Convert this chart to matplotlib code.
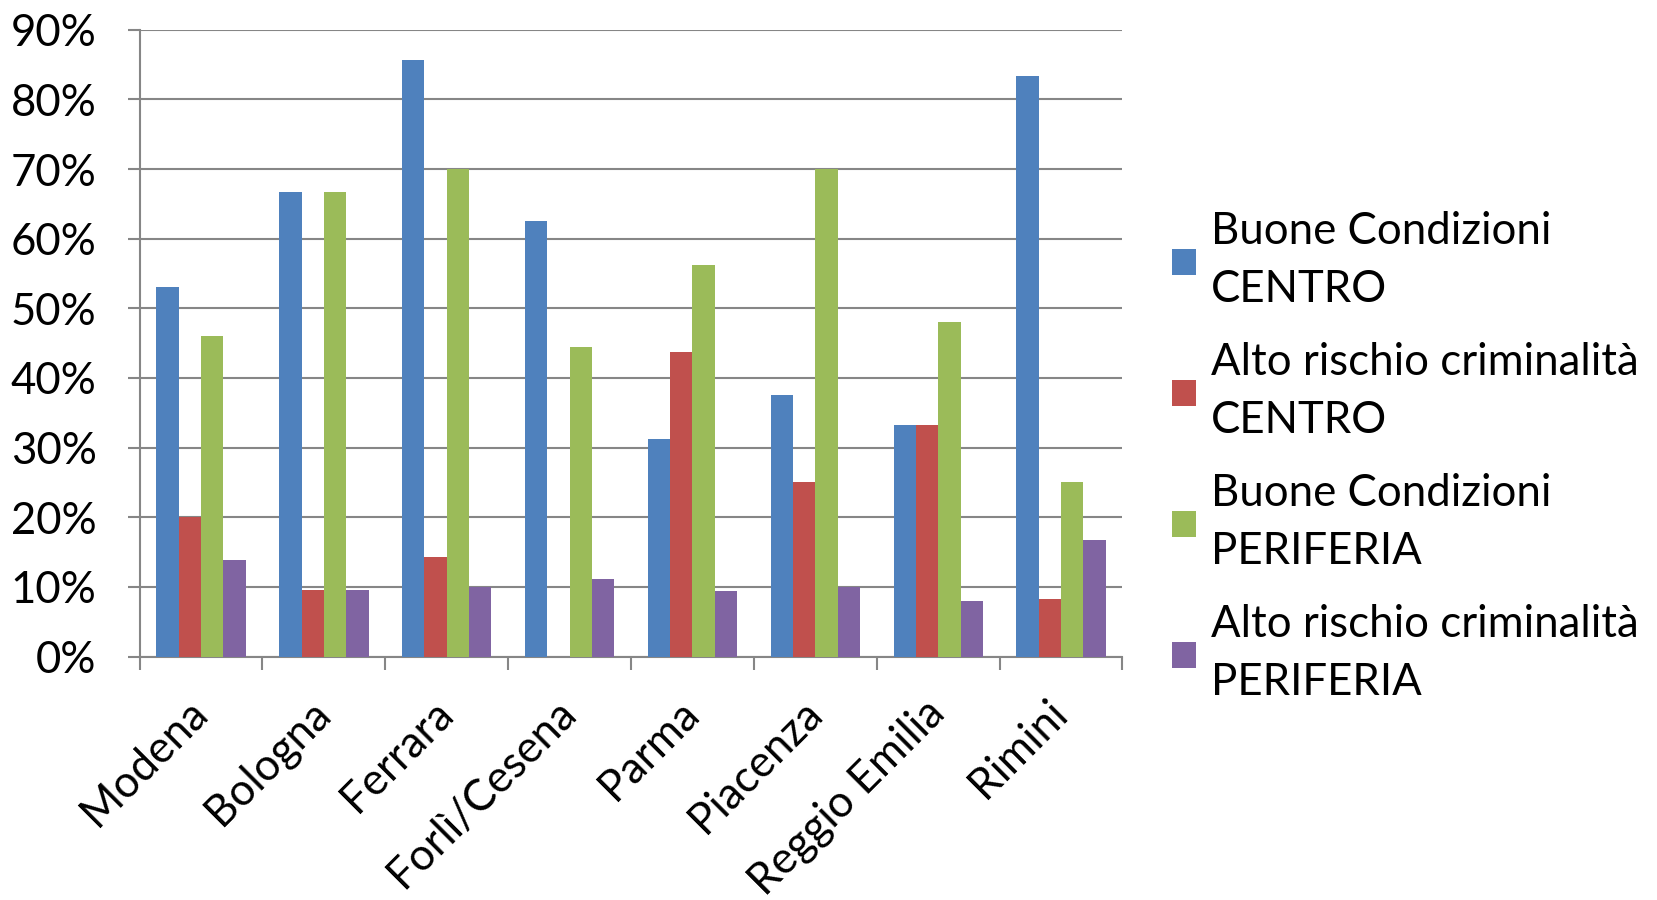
import numpy as np
import matplotlib
matplotlib.use("Agg")
import matplotlib.pyplot as plt
from matplotlib.patches import Patch
from matplotlib.ticker import PercentFormatter

cities = ['Modena', 'Bologna', 'Ferrara', 'Forlì/Cesena', 'Parma',
          'Piacenza', 'Reggio Emilia', 'Rimini']

buone_centro = [53.0, 66.7, 85.7, 62.5, 31.2, 37.5, 33.3, 83.3]
rischio_centro = [20.0, 9.5, 14.3, 0.0, 43.8, 25.0, 33.3, 8.3]
buone_periferia = [46.0, 66.7, 70.0, 44.4, 56.2, 70.0, 48.0, 25.0]
rischio_periferia = [13.9, 9.5, 10.0, 11.1, 9.4, 10.0, 8.0, 16.7]

labels = ['Buone Condizioni\nCENTRO', 'Alto rischio criminalità\nCENTRO',
          'Buone Condizioni\nPERIFERIA', 'Alto rischio criminalità\nPERIFERIA']
colors = ['#4F81BD', '#C0504D', '#9BBB59', '#8064A2']

plt.rcParams['font.family'] = ['Lato', 'DejaVu Sans']
grey = '#868686'
fs = 31.5

fig = plt.figure(figsize=(16.58, 9), dpi=100)
ax = fig.add_axes([0.0842, 0.2704, 0.5928, 0.6966])

x = np.arange(len(cities))
w = 1 / 5.5
series = [buone_centro, rischio_centro, buone_periferia, rischio_periferia]
for i, s in enumerate(series):
    ax.bar(x + (i - 1.5) * w, s, width=w, color=colors[i], linewidth=0, zorder=3)

ax.set_xlim(-0.5, len(cities) - 0.5)
ax.set_ylim(0, 90)
ax.set_yticks(np.arange(0, 91, 10))
ax.yaxis.set_major_formatter(PercentFormatter(decimals=0))
ax.grid(axis='y', color=grey, linewidth=1.5, zorder=0)

ax.set_xticks(x)
ax.set_xticklabels(cities, rotation=45, ha='right', va='center', rotation_mode='anchor')
ax.set_xticks(np.arange(-0.5, len(cities)), minor=True)
ax.tick_params(axis='x', which='major', length=0, labelsize=fs, pad=36)
ax.tick_params(axis='x', which='minor', length=9, width=1.5, color=grey)
ax.tick_params(axis='y', length=9, width=1.5, color=grey, labelsize=fs, pad=22)

for side in ['top', 'right']:
    ax.spines[side].set_visible(False)
ax.spines['left'].set_color(grey)
ax.spines['left'].set_linewidth(1.5)
ax.spines['bottom'].set_color(grey)
ax.spines['bottom'].set_linewidth(1.5)

handles = [Patch(facecolor=c, edgecolor='none') for c in colors]
leg = fig.legend(handles, labels, loc='center left', bbox_to_anchor=(0.683, 0.492),
                 frameon=False, fontsize=fs, handlelength=0.55, handleheight=0.55,
                 handletextpad=0.35, labelspacing=0.72)
for t in leg.get_texts():
    t.set_linespacing(1.53)

fig.savefig('out.png', dpi=100)
